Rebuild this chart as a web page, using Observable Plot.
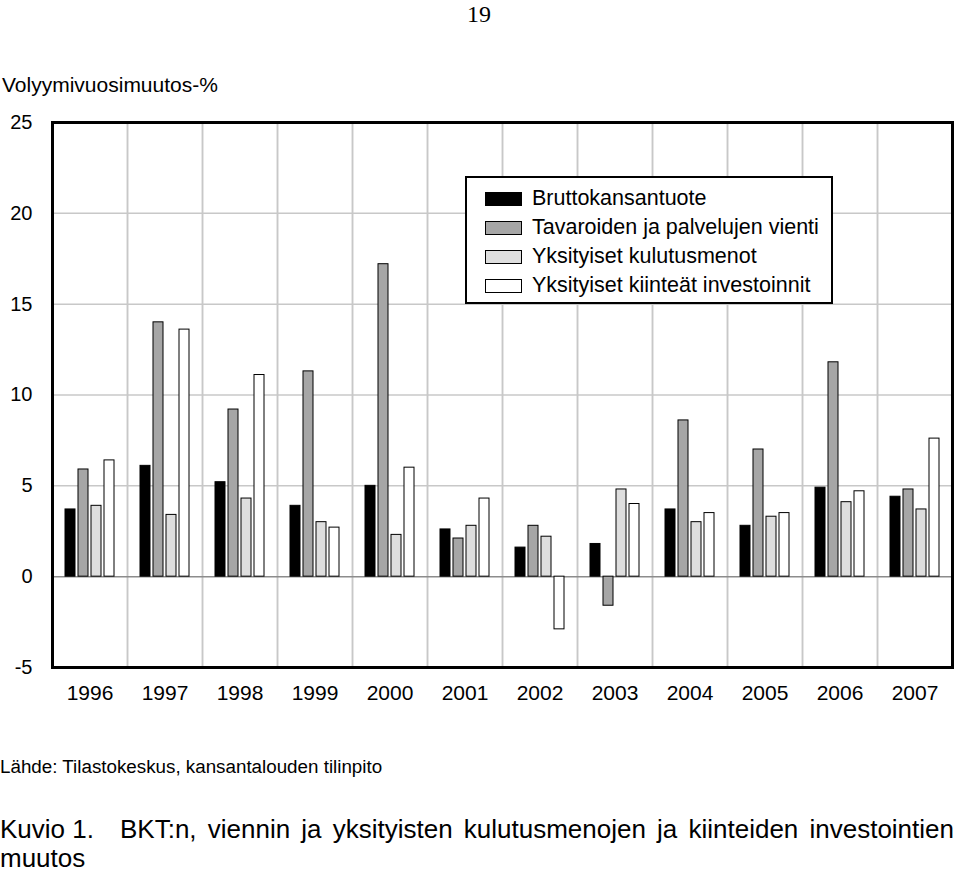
<!DOCTYPE html>
<html>
<head>
<meta charset="utf-8">
<script src="https://cdn.jsdelivr.net/npm/d3@7"></script>
<script src="https://cdn.jsdelivr.net/npm/@observablehq/plot@0.6"></script>
<style>
  html, body { margin: 0; padding: 0; background: #fff; }
  #page { position: relative; width: 960px; height: 873px; overflow: hidden;
          font-family: "Liberation Sans", Arial, sans-serif; color: #000; }
  .abs { position: absolute; white-space: pre; line-height: 1; }
  #pagenum { left: 467px; top: 2px; font-family: "Liberation Serif", "Times New Roman", serif; font-size: 24px; }
  #ylabel { left: 2px; top: 74px; font-size: 21px; }
  #chart { position: absolute; left: 0; top: 100px; }
  #legend { position: absolute; left: 465px; top: 176px; width: 364px; height: 124px;
            border: 2px solid #000; background: #fff; }
  .lrow { position: absolute; left: 0; height: 29px; width: 360px; }
  .sw { position: absolute; left: 18px; width: 35px; height: 12px; border: 1px solid #000; }
  .lt { position: absolute; left: 65px; font-size: 21.5px; line-height: 1; white-space: nowrap; }
  #source { left: 0px; top: 758px; font-size: 18.8px; }
  #title1a { left: 0px; top: 816px; font-size: 26px; }
  #title1b { position: absolute; left: 120px; top: 816px; width: 834px; font-size: 26px; line-height: 1;
             text-align: justify; text-align-last: justify; white-space: normal; }
  #title2 { left: 0px; top: 845px; font-size: 26px; }
</style>
</head>
<body>
<div id="page">
  <div id="pagenum" class="abs">19</div>
  <div id="ylabel" class="abs">Volyymivuosimuutos-%</div>
  <div id="chart"></div>
  <div id="legend"></div>
  <div id="source" class="abs">Lähde: Tilastokeskus, kansantalouden tilinpito</div>
  <div id="title1a" class="abs">Kuvio 1.</div>
  <div id="title1b">BKT:n, viennin ja yksityisten kulutusmenojen ja kiinteiden investointien</div>
  <div id="title2" class="abs">muutos</div>
</div>
<script>
// ---- data ----
const years = ["1996","1997","1998","1999","2000","2001","2002","2003","2004","2005","2006","2007"];
const series = ["Bruttokansantuote", "Tavaroiden ja palvelujen vienti", "Yksityiset kulutusmenot", "Yksityiset kiinteät investoinnit"];
const bkt          = [3.7, 6.1, 5.2, 3.9, 5.0, 2.6, 1.6, 1.8, 3.7, 2.8, 4.9, 4.4];
const vienti       = [5.9, 14.0, 9.2, 11.3, 17.2, 2.1, 2.8, -1.6, 8.6, 7.0, 11.8, 4.8];
const kulutus      = [3.9, 3.4, 4.3, 3.0, 2.3, 2.8, 2.2, 4.8, 3.0, 3.3, 4.1, 3.7];
const investoinnit = [6.4, 13.6, 11.1, 2.7, 6.0, 4.3, -2.9, 4.0, 3.5, 3.5, 4.7, 7.6];
const yTicks = [-5, 0, 5, 10, 15, 20, 25];

const fills = ["#000000", "#a6a6a6", "#dedede", "#ffffff"];

const valuesBySeries = [bkt, vienti, kulutus, investoinnit];
const data = [];
years.forEach((yr, i) => {
  series.forEach((s, j) => data.push({ year: yr, series: s, value: valuesBySeries[j][i] }));
});

function build(useSuper) {
  const marks = [
    Plot.gridY(yTicks.filter(v => v !== 0), { stroke: "#c8c8c8", strokeOpacity: 1, strokeWidth: 1.5 }),
    Plot.frame({ stroke: "#c8c8c8", strokeWidth: 1.5 }),
    Plot.ruleY([0], { stroke: "#8c8c8c", strokeWidth: 1.5 }),
    Plot.barY(data, { fx: "year", x: "series", y: "value", fill: "series", stroke: "#000", strokeWidth: 1 }),
    Plot.axisY(yTicks, { tickSize: 0, tickPadding: 20, fontSize: 20, label: null, tickFormat: d => String(d) }),
    Plot.axisFx({ anchor: "bottom", tickSize: 0, tickPadding: 18, fontSize: 21, label: null })
  ];
  if (useSuper) marks.push(Plot.frame({ stroke: "#000", strokeWidth: 3, facet: "super" }));
  return Plot.plot({
    width: 960, height: 620,
    marginLeft: 51, marginRight: 7, marginTop: 22, marginBottom: 53,
    fx: { domain: years, padding: 0, label: null },
    x: { domain: series, paddingInner: 0.2, paddingOuter: 0.78, axis: null },
    y: { domain: [-5, 25], ticks: yTicks, label: null },
    color: { domain: series, range: fills },
    style: { fontFamily: "'Liberation Sans', Arial, sans-serif", fontSize: "20px", color: "#000", background: "transparent", overflow: "visible" },
    marks
  });
}
let chart;
try { chart = build(true); } catch (e) { chart = build(false); }
document.getElementById("chart").appendChild(chart);

// legend
const legend = document.getElementById("legend");
series.forEach((s, j) => {
  const row = document.createElement("div");
  row.className = "lrow";
  row.style.top = (6 + 29 * j) + "px";
  const sw = document.createElement("div");
  sw.className = "sw";
  sw.style.background = fills[j];
  sw.style.top = "8px";
  const t = document.createElement("div");
  t.className = "lt";
  t.style.top = "4px";
  t.textContent = s;
  row.appendChild(sw); row.appendChild(t);
  legend.appendChild(row);
});
</script>
</body>
</html>
